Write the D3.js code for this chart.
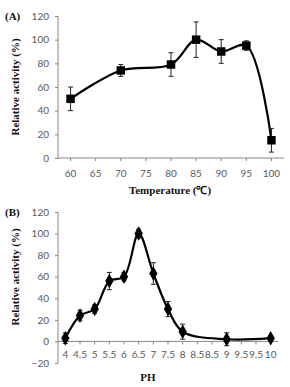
<!DOCTYPE html>
<html>
<head>
<meta charset="utf-8">
<script src="https://cdn.jsdelivr.net/npm/d3@7"></script>
<style>
  body { margin: 0; background: #fff; }
  .tick text { font-family: Lato, "Open Sans", sans-serif; font-size: 10px; fill: #595959; }
  .ttl { font-family: "Liberation Serif", "Times New Roman", serif; font-weight: bold; font-size: 11px; fill: #111; }
</style>
</head>
<body>
<div id="visual"></div>
<script>
// panel A: temperature
const tempCats = ["60", "65", "70", "75", "80", "85", "90", "95", "100"];
const tempAt = ["60", "70", "80", "85", "90", "95", "100"];
const tempVal = [50, 74, 79, 100, 90, 95, 15];
const tempErr = [10, 5, 10, 15, 10, 4, 10];
const tempTicks = [0, 20, 40, 60, 80, 100, 120];

// panel B: pH (category labels as printed, incl. the repeated ones)
const phCats = ["4", "4.5", "5", "5.5", "6", "6.5", "7", "7.5", "8", "8.5", "8.5", "9", "9.5", "9.5", "10"];
const phAt = [0, 1, 2, 3, 4, 5, 6, 7, 8, 11, 14];
const phVal = [3, 24, 30, 56, 60, 100, 63, 30, 9, 2, 3];
const phErr = [5, 5, 4, 8, 4, 4, 10, 7, 7, 6, 2];
const phTicks = [-20, 0, 20, 40, 60, 80, 100, 120];

let svg = d3.select("#visual")
    .append("svg")
    .attr("width", 290)
    .attr("height", 387);

function panel(opt) {
    let g = svg.append("g");

    let x = d3.scaleBand()
        .domain(d3.range(opt.cats.length))
        .range([opt.left, opt.right]);
    let y = d3.scaleLinear()
        .domain(opt.domain)
        .range([opt.bottom, opt.top]);

    // y axis
    let ya = g.append("g")
        .attr("transform", "translate(" + opt.left + ",0)")
        .call(d3.axisLeft(y).tickValues(opt.ticks).tickSize(3).tickPadding(6));
    ya.selectAll("line").attr("stroke", "#868686");
    ya.select(".domain").attr("stroke", "#868686").attr("d", "M0," + y(opt.domain[0]) + "V" + y(opt.domain[1]));

    // x axis at value 0
    let xa = g.append("g")
        .attr("transform", "translate(0," + y(0) + ")")
        .call(d3.axisBottom(x).tickFormat(i => opt.cats[i]).tickSize(3).tickPadding(opt.xpad));
    xa.selectAll("line").attr("stroke", "#868686");
    xa.select(".domain").attr("stroke", "#868686").attr("d", "M" + opt.left + ",0H" + opt.right);

    let pts = opt.at.map((c, i) => ({
        cx: x(c) + x.bandwidth() / 2,
        v: opt.vals[i],
        e: opt.errs[i]
    }));

    let line = d3.line()
        .x(d => d.cx)
        .y(d => y(d.v))
        .curve(d3.curveCatmullRom.alpha(0.5));

    g.append("path")
        .datum(pts)
        .attr("fill", "none")
        .attr("stroke", "#000")
        .attr("stroke-width", 2.2)
        .attr("d", line);

    // error bars
    let eb = g.selectAll(".err").data(pts).enter().append("g").attr("class", "err");
    eb.append("line")
        .attr("x1", d => d.cx).attr("x2", d => d.cx)
        .attr("y1", d => y(d.v - d.e)).attr("y2", d => y(d.v + d.e))
        .attr("stroke", "#222").attr("stroke-width", 1);
    [-1, 1].forEach(s => {
        eb.append("line")
            .attr("x1", d => d.cx - 2.5).attr("x2", d => d.cx + 2.5)
            .attr("y1", d => y(d.v + s * d.e)).attr("y2", d => y(d.v + s * d.e))
            .attr("stroke", "#222").attr("stroke-width", 1);
    });

    g.selectAll(".mk")
        .data(pts)
        .enter().append("path")
        .attr("class", "mk")
        .attr("transform", d => "translate(" + d.cx + "," + y(d.v) + ")")
        .attr("d", d3.symbol().type(opt.symbol).size(opt.symSize))
        .attr("fill", "#000");

    // titles
    g.append("text")
        .attr("class", "ttl")
        .attr("x", 5).attr("y", opt.top + 4)
        .text(opt.tag);
    g.append("text")
        .attr("class", "ttl")
        .attr("transform", "translate(19," + opt.ycenter + ") rotate(-90)")
        .attr("text-anchor", "middle")
        .text("Relative  activity (%)");
    g.append("text")
        .attr("class", "ttl")
        .attr("x", opt.xtitleX).attr("y", opt.xtitleY)
        .attr("text-anchor", "middle")
        .text(opt.xtitle);
}

panel({
    cats: tempCats,
    at: tempAt.map(c => tempCats.indexOf(c)),
    vals: tempVal, errs: tempErr,
    domain: [0, 120], ticks: tempTicks,
    left: 58, right: 284, top: 16, bottom: 158,
    xpad: 9, symbol: d3.symbolSquare, symSize: 72,
    tag: "(A)", ycenter: 87,
    xtitle: "Temperature (\u2103)", xtitleX: 170, xtitleY: 194
});

panel({
    cats: phCats,
    at: phAt,
    vals: phVal, errs: phErr,
    domain: [-20, 120], ticks: phTicks,
    left: 58, right: 278, top: 212, bottom: 363,
    xpad: 6, symbol: d3.symbolDiamond, symSize: 60,
    tag: "(B)", ycenter: 277,
    xtitle: "PH", xtitleX: 148, xtitleY: 381
});
</script>
</body>
</html>
